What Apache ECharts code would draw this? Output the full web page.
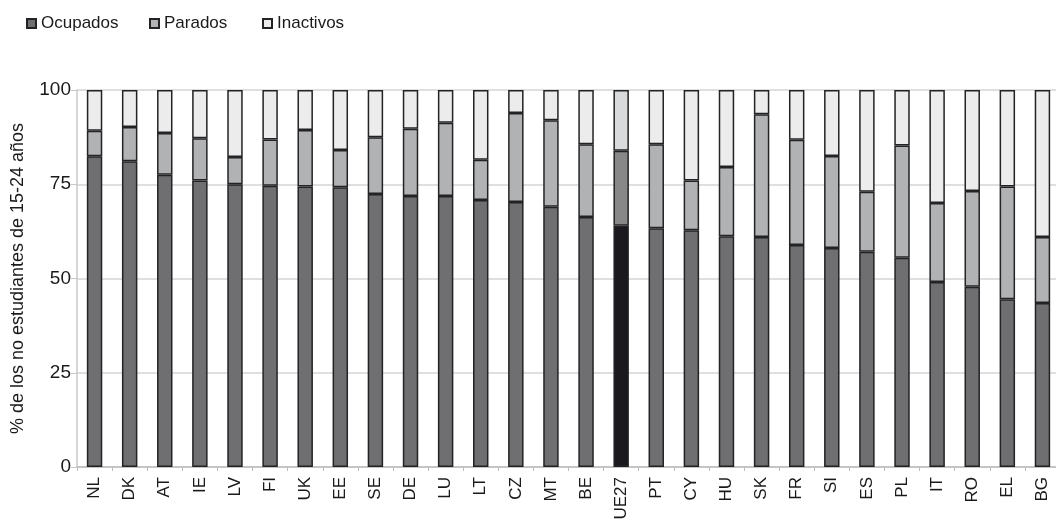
<!DOCTYPE html>
<html>
<head>
<meta charset="utf-8">
<script src="https://cdn.jsdelivr.net/npm/echarts@6/dist/echarts.min.js"></script>
<style>
  html, body { margin: 0; padding: 0; background: #fff; }
  #chart { width: 1056px; height: 519px; }
</style>
</head>
<body>
<div id="chart"></div>
<script>
// Situación de los jóvenes no estudiantes (15-24 años) por país
const countries = ['NL','DK','AT','IE','LV','FI','UK','EE','SE','DE','LU','LT','CZ','MT','BE','UE27','PT','CY','HU','SK','FR','SI','ES','PL','IT','RO','EL','BG'];
const ocupados  = [82.4, 81.1, 77.5, 76.0, 75.0, 74.6, 74.4, 74.2, 72.4, 71.9, 71.9, 70.8, 70.3, 69.0, 66.3, 64.0, 63.3, 62.8, 61.2, 61.0, 58.9, 58.1, 57.1, 55.5, 49.1, 47.8, 44.5, 43.5];
const parados   = [6.8, 9.1, 11.1, 11.2, 7.2, 12.3, 15.0, 9.9, 15.1, 17.8, 19.4, 10.7, 23.6, 23.0, 19.3, 19.9, 22.3, 13.2, 18.4, 32.6, 27.9, 24.4, 15.9, 29.8, 20.9, 25.4, 29.9, 17.5];
const inactivos = ocupados.map((v, i) => +(100 - v - parados[i]).toFixed(1));
const yTicks = [0, 25, 50, 75, 100];
const seriesNames = ['Ocupados', 'Parados', 'Inactivos'];

const FONT = '"Liberation Sans", Arial, sans-serif';
const HIGHLIGHT = 'UE27';

const palette = {
  Ocupados:  { base: '#6f6f71', hi: '#1b191d' },
  Parados:   { base: '#b1b2b4', hi: '#888889' },
  Inactivos: { base: '#ececec', hi: '#d9dadb' }
};

function makeSeries(name, values) {
  return {
    name: name,
    type: 'bar',
    stack: 'total',
    barWidth: '44%',
    itemStyle: { color: palette[name].base, borderColor: '#232325', borderWidth: 1.5 },
    data: values.map((v, i) => countries[i] === HIGHLIGHT
      ? { value: v, itemStyle: { color: palette[name].hi } }
      : v)
  };
}

// one legend entry per block so each key sits at its own x position
const legendLeft = [21, 144, 257];
const legends = seriesNames.map((n, i) => ({
  left: legendLeft[i],
  top: 10,
  icon: 'rect',
  itemWidth: 9,
  itemHeight: 9,
  textStyle: { fontFamily: FONT, fontSize: 17, color: '#1a1a1a' },
  data: [n]
}));

const chart = echarts.init(document.getElementById('chart'));
chart.setOption({
  animation: false,
  backgroundColor: '#ffffff',
  textStyle: { fontFamily: FONT },
  legend: legends,
  grid: { left: 77, right: -4, top: 90, bottom: 52, containLabel: false, outerBoundsMode: 'none' },
  xAxis: {
    type: 'category',
    data: countries,
    axisLine: { lineStyle: { color: '#bdbdbd', width: 1.5 } },
    axisTick: { show: true, length: 4, lineStyle: { color: '#bdbdbd' } },
    axisLabel: { rotate: 90, margin: 10, fontFamily: FONT, fontSize: 17, color: '#1a1a1a', interval: 0 }
  },
  yAxis: {
    type: 'value',
    min: yTicks[0],
    max: yTicks[yTicks.length - 1],
    interval: 25,
    name: '% de los no estudiantes de 15-24 años',
    nameLocation: 'middle',
    nameGap: 50,
    nameTextStyle: { fontFamily: FONT, fontSize: 18, color: '#1a1a1a' },
    axisLine: { show: true, lineStyle: { color: '#c8c8c8', width: 1.5 } },
    axisTick: { show: true, length: 6, lineStyle: { color: '#c8c8c8' } },
    axisLabel: { fontFamily: FONT, fontSize: 19, color: '#1a1a1a', margin: 6 },
    splitLine: { lineStyle: { color: '#d4d4d4', width: 1.5 } }
  },
  series: seriesNames.map((n, i) => makeSeries(n, [ocupados, parados, inactivos][i]))
});
</script>
</body>
</html>
